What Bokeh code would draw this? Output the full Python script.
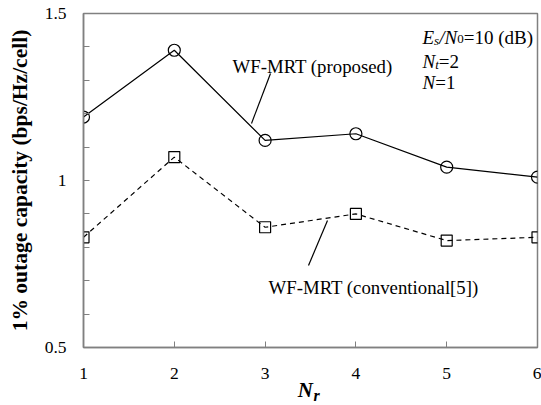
from bokeh.plotting import figure
from bokeh.models import FixedTicker, Range1d, Label, Segment, ColumnDataSource, LinearAxis
from bokeh.embed import file_html
from bokeh.resources import INLINE

# ---- data ----
nr = [1, 2, 3, 4, 5, 6]
proposed = [1.19, 1.39, 1.12, 1.14, 1.04, 1.01]
conventional = [0.83, 1.07, 0.86, 0.90, 0.82, 0.83]
y_major = [0.5, 1.0, 1.5]
y_major_labels = ["0.5", "1", "1.5"]
y_minor = [0.6, 0.7, 0.8, 0.9, 1.1, 1.2, 1.3, 1.4]
x_tick_labels = ["1", "2", "3", "4", "5", "6"]

SERIF = "Liberation Serif"
GRAY = "#808080"
NBSP = "\u00a0"

p = figure(width=541, height=405, output_backend="svg", toolbar_location=None,
           x_range=Range1d(1, 6), y_range=Range1d(0.5, 1.5),
           frame_width=454, frame_height=334,
           min_border_left=83, min_border_right=4, min_border_top=13, min_border_bottom=58)
p.background_fill_color = "white"
p.border_fill_color = "white"
p.outline_line_color = GRAY
p.outline_line_width = 1.5
p.xgrid.visible = False
p.ygrid.visible = False

# axes
p.xaxis.ticker = FixedTicker(ticks=nr)
p.xaxis.major_label_overrides = {n: s for n, s in zip(nr, x_tick_labels)}
p.yaxis.ticker = FixedTicker(ticks=y_major, minor_ticks=y_minor)
p.yaxis.major_label_overrides = {v: s for v, s in zip(y_major, y_major_labels)}
for ax in (p.xaxis[0], p.yaxis[0]):
    ax.axis_line_color = GRAY
    ax.axis_line_width = 1.5
    ax.major_tick_line_color = GRAY
    ax.minor_tick_line_color = GRAY
    ax.major_tick_in = 6
    ax.major_tick_out = 0
    ax.minor_tick_in = 6
    ax.minor_tick_out = 0
    ax.major_label_text_font = SERIF
    ax.major_label_text_font_size = "17.5px"
    ax.major_label_text_color = "black"
p.xaxis.minor_tick_line_color = None
p.xaxis.major_label_standoff = 20
p.yaxis.major_label_standoff = 17

p.yaxis.axis_label = "1% outage capacity (bps/Hz/cell)"
p.yaxis.axis_label_text_font = SERIF
p.yaxis.axis_label_text_font_style = "bold"
p.yaxis.axis_label_text_font_size = "21.5px"
p.yaxis.axis_label_text_color = "black"
p.yaxis.axis_label_standoff = 10

# x-axis title: N with subscript r (second, tick-less axis carries the subscript)
xa = p.xaxis[0]
xa.axis_label = "N" + NBSP + NBSP
xa.axis_label_text_font = SERIF
xa.axis_label_text_font_style = "bold italic"
xa.axis_label_text_font_size = "21px"
xa.axis_label_text_color = "black"
xa.axis_label_standoff = -4

xsub = LinearAxis(ticker=FixedTicker(ticks=[]), axis_line_color=None,
                  major_tick_in=0, major_tick_out=0, minor_tick_in=0, minor_tick_out=0,
                  major_label_standoff=0, major_label_text_font_size="1px",
                  axis_label=NBSP * 3 + "r", axis_label_text_font=SERIF,
                  axis_label_text_font_style="bold italic", axis_label_text_font_size="16px",
                  axis_label_text_color="black", axis_label_standoff=-18)
p.add_layout(xsub, "below")

# series
p.line(nr, proposed, line_color="black", line_width=1.2)
p.scatter(nr, proposed, marker="circle", size=12, fill_alpha=0, line_color="black", line_width=1.2)
p.line(nr, conventional, line_color="black", line_width=1.2, line_dash="5 4")
p.scatter(nr, conventional, marker="square", size=11, fill_alpha=0, line_color="black", line_width=1.2)

# helpers: picture px -> data
def dx(sx):
    return 1 + (sx - 83) / 90.8

def dy(sy):
    return 0.5 + (347 - sy) / 334.0

# leader lines
lead = ColumnDataSource(dict(x0=[dx(270), dx(327)], y0=[dy(73), dy(220)],
                             x1=[dx(251), dx(308)], y1=[dy(123), dy(265)]))
p.add_glyph(lead, Segment(x0="x0", y0="y0", x1="x1", y1="y1", line_color="black", line_width=1.2))

def lab(text, sx, sy, size="18px", style="normal", align="left"):
    p.add_layout(Label(x=dx(sx), y=dy(sy), text=text, text_font=SERIF,
                       text_font_size=size, text_font_style=style, text_color="black",
                       text_align=align, text_baseline="alphabetic"))

lab("WF-MRT (proposed)", 232, 66, "18.8px")
lab("WF-MRT (conventional[5])", 268, 287, "18.8px")

# parameter block
lab("E", 422, 37, "19px", "italic")
lab("s", 433.6, 40, "13px", "italic")
lab("/N", 438.7, 37, "19px", "italic")
lab("0", 456.7, 38.5, "13px")
lab("=10 (dB)", 463.2, 37, "19px")
lab("N", 422, 60.5, "19px", "italic")
lab("t", 434.7, 63.5, "13px", "italic")
lab("=2", 438.3, 60.5, "19px")
lab("N", 422, 82, "19px", "italic")
lab("=1", 434.7, 82, "19px")

open("out.html", "w").write(file_html(p, INLINE))
